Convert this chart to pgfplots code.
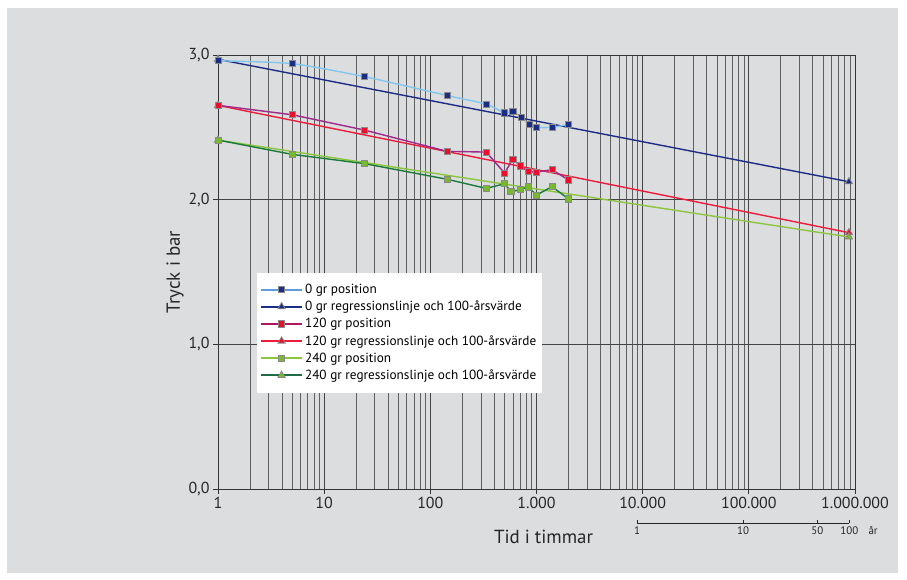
\documentclass[border=0pt]{standalone}
\usepackage{pgfplots}
\pgfplotsset{compat=1.18}
\usepackage{fontspec}
\setmainfont{PT Sans}
\definecolor{bg}{HTML}{DCDDDF}
\definecolor{gridc}{HTML}{444444}
\definecolor{lblue}{HTML}{80C6EE}
\definecolor{legblue}{HTML}{5F9BDC}
\definecolor{navy}{HTML}{1C2D85}
\definecolor{purp}{HTML}{A0288C}
\definecolor{crim}{HTML}{B01860}
\definecolor{redl}{HTML}{EE1C3A}
\definecolor{redsq}{HTML}{E8102A}
\definecolor{lgreen}{HTML}{8CC63F}
\definecolor{dgreen}{HTML}{1A7A3A}
\definecolor{tealg}{HTML}{1E6B45}
\definecolor{gsq}{HTML}{7AB830}
\definecolor{edge}{HTML}{8A8A8A}
\newcommand{\legimg}[4]{\addlegendimage{legend image code/.code={%
  \path[draw=#1, line width=2bp] (0bp,0bp) -- (41bp,0bp);
  \path[draw=edge, fill=#2, line width=0.8bp, mark size=#4] plot[mark=#3] coordinates {(20.5bp,0bp)};}}}
\begin{document}
\begin{tikzpicture}
\fill[white] (0,0) rectangle (907bp,-580bp);
\fill[bg] (7bp,-8bp) rectangle (898bp,-573bp);
\begin{axis}[
  at={(218bp,-489bp)}, anchor=south west,
  scale only axis, width=637bp, height=434bp,
  xmode=log, xmin=1, xmax=1000000, ymin=0, ymax=3,
  xtick={1,10,100,1000,10000,100000,1000000},
  xticklabels={1,10,100,1.000,10.000,100.000,1.000.000},
  ytick={0,1,2,3}, yticklabels={{0,0},{1,0},{2,0},{3,0}},
  /pgf/number format/assume math mode=true,
  tick label style={font=\fontsize{16}{18}\selectfont, text=black!85},
  xmajorgrids, xminorgrids, ymajorgrids,
  major grid style={gridc, line width=0.8bp},
  minor grid style={gridc!85, line width=0.75bp},
  axis line style={black!80, line width=0.8bp},
  tick style={black!80, line width=0.8bp},
  tick align=outside, major tick length=5bp, minor tick length=0pt,
  xtick pos=bottom, ytick pos=left,
  xlabel={Tid i timmar}, ylabel={Tryck i bar},
  label style={font=\fontsize{19}{21}\selectfont, text=black!85},
  xlabel style={at={(axis description cs:0.5,-0.110)}, anchor=center, xshift=7bp},
  ylabel style={at={(axis description cs:-0.0675,0.5)}, anchor=center},
  clip=false,
  legend style={at={(0.061,0.498)}, anchor=north west, fill=white, draw=white,
    font=\fontsize{13.3}{15}\selectfont, row sep=2.1bp, inner xsep=3bp, inner ysep=9bp},
  legend cell align=left,
]
% legend entries
\legimg{legblue}{navy}{square*}{3.1bp}
\addlegendentry{0 gr position}
\legimg{navy}{navy}{triangle*}{4.2bp}
\addlegendentry{0 gr regressionslinje och 100-årsvärde}
\legimg{crim}{redsq}{square*}{3.1bp}
\addlegendentry{120 gr position}
\legimg{redl}{redsq}{triangle*}{4.2bp}
\addlegendentry{120 gr regressionslinje och 100-årsvärde}
\legimg{lgreen}{gsq}{square*}{3.1bp}
\addlegendentry{240 gr position}
\legimg{tealg}{gsq}{triangle*}{4.2bp}
\addlegendentry{240 gr regressionslinje och 100-årsvärde}
% regression lines
\addplot[forget plot, navy, line width=1.4bp, mark=triangle*, mark size=4.2bp, mark options={fill=navy, draw=edge, line width=0.8bp}]
  coordinates {(1,2.97) (876000,2.124)};
\addplot[forget plot, redl, line width=1.4bp, mark=triangle*, mark size=4.2bp, mark options={fill=redsq, draw=edge, line width=0.8bp}]
  coordinates {(1,2.652) (876000,1.772)};
\addplot[forget plot, lgreen, line width=1.4bp, mark=triangle*, mark size=4.2bp, mark options={fill=gsq, draw=edge, line width=0.8bp}]
  coordinates {(1,2.412) (876000,1.742)};
% position series
\addplot[forget plot, lblue, line width=1.4bp, smooth, tension=0.4, mark=square*, mark size=3.1bp, mark options={fill=navy, draw=edge, line width=0.8bp}]
  coordinates {(1,2.96) (5,2.94) (24,2.85) (144,2.72) (336,2.66) (500,2.60) (600,2.61) (720,2.57) (850,2.52) (1000,2.50) (1400,2.50) (2000,2.52)};
\addplot[forget plot, purp, line width=1.4bp, mark=square*, mark size=3.1bp, mark options={fill=redsq, draw=edge, line width=0.8bp}]
  coordinates {(1,2.652) (5,2.587) (24,2.481) (144,2.334) (336,2.329) (500,2.184) (600,2.281) (700,2.233) (840,2.193) (1000,2.191) (1400,2.207) (2000,2.136)};
\addplot[forget plot, dgreen, line width=1.4bp, mark=square*, mark size=3.1bp, mark options={fill=gsq, draw=edge, line width=0.8bp}]
  coordinates {(1,2.412) (5,2.313) (24,2.249) (144,2.141) (336,2.078) (500,2.110) (575,2.055) (700,2.069) (840,2.088) (1000,2.032) (1400,2.090) (2000,2.005)};
\end{axis}
% secondary year scale
\begin{axis}[
  at={(637bp,-523bp)}, anchor=south west,
  scale only axis, width=212.4bp, height=1bp,
  xmode=log, xmin=8760, xmax=876000, ymin=0, ymax=1,
  axis x line*=bottom, axis y line=none,
  x axis line style={-, black!85, line width=0.8bp},
  xtick={8760,87600,438000,876000}, xticklabels={1,10,50,100},
  minor xtick={}, 
  tick align=inside, major tick length=3bp,
  tick style={black!85, line width=0.8bp},
  /pgf/number format/assume math mode=true,
  xticklabel style={font=\fontsize{11}{13}\selectfont, text=black!85},
]
\addplot[draw=none] coordinates {(8760,0)};
\end{axis}
\node[anchor=west, font=\fontsize{11}{13}\selectfont, text=black!85] at (865bp,-531bp) {år};
\end{tikzpicture}
\end{document}
